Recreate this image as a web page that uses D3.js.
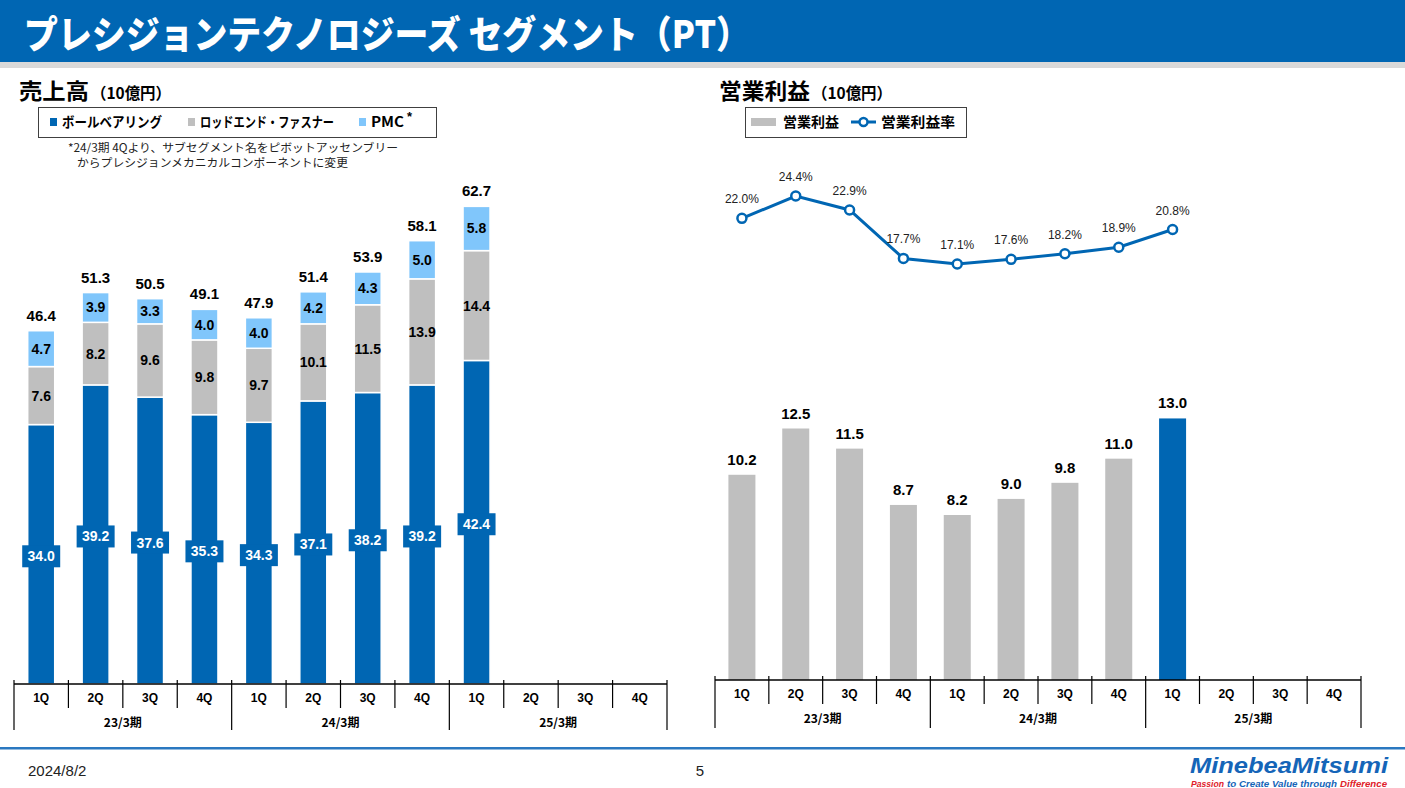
<!DOCTYPE html>
<html><head><meta charset="utf-8">
<script src="https://cdn.jsdelivr.net/npm/d3@7"></script>
<style>
html,body{margin:0;padding:0;background:#fff;}
svg{display:block;}
text{font-family:"Liberation Sans",Arial,"Noto Sans CJK JP",sans-serif;}
.jp{font-family:"Noto Sans CJK JP","Liberation Sans",sans-serif;}
</style></head><body>
<svg id="c" width="1405" height="788"></svg>
<script>
const quarters = ["1Q","2Q","3Q","4Q","1Q","2Q","3Q","4Q","1Q","2Q","3Q","4Q"];
const years = ["23/3期","24/3期","25/3期"];
const ballBearing = [34.0,39.2,37.6,35.3,34.3,37.1,38.2,39.2,42.4];
const rodEnd = [7.6,8.2,9.6,9.8,9.7,10.1,11.5,13.9,14.4];
const pmc = [4.7,3.9,3.3,4.0,4.0,4.2,4.3,5.0,5.8];
const salesTotal = [46.4,51.3,50.5,49.1,47.9,51.4,53.9,58.1,62.7];
const opIncome = [10.2,12.5,11.5,8.7,8.2,9.0,9.8,11.0,13.0];
const opMargin = [22.0,24.4,22.9,17.7,17.1,17.6,18.2,18.9,20.8];

const BLUE="#0066b3", GRAY="#bfbfbf", LBLUE="#80c6fb";
const svg=d3.select("#c");
const keys=d3.range(12);

// header
svg.append("rect").attr("x",0).attr("y",0).attr("width",1405).attr("height",62).attr("fill",BLUE);
svg.append("rect").attr("x",0).attr("y",62).attr("width",1405).attr("height",6).attr("fill","#d9d9d9");
svg.append("text").attr("class","jp").attr("x",24).attr("y",48).attr("fill","#fff")
  .attr("font-size",38).attr("font-weight",900).attr("textLength",726).attr("lengthAdjust","spacingAndGlyphs")
  .text("プレシジョンテクノロジーズ セグメント（PT）");

// section titles
function sectTitle(x,main,w1,w2){
  svg.append("text").attr("class","jp").attr("x",x).attr("y",99).attr("font-weight",700)
    .attr("font-size",22).attr("textLength",w1).attr("lengthAdjust","spacingAndGlyphs").text(main);
  svg.append("text").attr("class","jp").attr("x",x+w1+2).attr("y",99).attr("font-weight",700)
    .attr("font-size",16).attr("textLength",w2).attr("lengthAdjust","spacingAndGlyphs").text("（10億円）");
}
sectTitle(19,"売上高",70,80);
sectTitle(719,"営業利益",91,80);

// left legend
svg.append("rect").attr("x",38.5).attr("y",107.5).attr("width",398).attr("height",30).attr("fill","#fff").attr("stroke","#404040").attr("stroke-width",1);
const lg=[{c:BLUE,t:"ボールベアリング",x:50,w:100},{c:GRAY,t:"ロッドエンド・ファスナー",x:188,w:134},{c:LBLUE,t:"PMC",x:359,w:33}];
lg.forEach(d=>{
  svg.append("rect").attr("x",d.x).attr("y",118).attr("width",7).attr("height",8).attr("fill",d.c);
  svg.append("text").attr("class","jp").attr("x",d.x+12).attr("y",127).attr("font-size",14).attr("font-weight",700)
    .attr("textLength",d.w).attr("lengthAdjust","spacingAndGlyphs").text(d.t);
});
svg.append("text").attr("x",407).attr("y",121).attr("font-size",13).attr("font-weight",700).text("*");
svg.append("text").attr("class","jp").attr("x",68).attr("y",152).attr("font-size",11.5).attr("fill","#222")
  .attr("textLength",330).attr("lengthAdjust","spacingAndGlyphs").text("*24/3期 4Qより、サブセグメント名をピボットアッセンブリー");
svg.append("text").attr("class","jp").attr("x",77).attr("y",167).attr("font-size",11.5).attr("fill","#222")
  .attr("textLength",271).attr("lengthAdjust","spacingAndGlyphs").text("からプレシジョンメカニカルコンポーネントに変更");

// right legend
svg.append("rect").attr("x",745.5).attr("y",107.5).attr("width",221).attr("height",30).attr("fill","#fff").attr("stroke","#404040").attr("stroke-width",1);
svg.append("rect").attr("x",751).attr("y",118).attr("width",25).attr("height",8).attr("fill",GRAY);
svg.append("text").attr("class","jp").attr("x",783).attr("y",127).attr("font-size",14).attr("font-weight",700)
  .attr("textLength",56).attr("lengthAdjust","spacingAndGlyphs").text("営業利益");
svg.append("line").attr("x1",851).attr("x2",876).attr("y1",122).attr("y2",122).attr("stroke",BLUE).attr("stroke-width",3);
svg.append("circle").attr("cx",863.5).attr("cy",122).attr("r",4).attr("fill","#fff").attr("stroke",BLUE).attr("stroke-width",2.5);
svg.append("text").attr("class","jp").attr("x",881).attr("y",127).attr("font-size",14).attr("font-weight",700)
  .attr("textLength",74).attr("lengthAdjust","spacingAndGlyphs").text("営業利益率");

// axis helper
function drawAxis(x,y0,qy,yy,groupEnd){
  const g=svg.append("g");
  const [a,b]=x.range();
  g.append("line").attr("x1",a).attr("x2",b).attr("y1",y0).attr("y2",y0).attr("stroke","#000").attr("stroke-width",1.5);
  keys.forEach(i=>{
    const bx=x(i);
    const isGroup=i%4===0;
    g.append("line").attr("x1",bx).attr("x2",bx).attr("y1",y0-4).attr("y2",isGroup?groupEnd:y0+24).attr("stroke","#000").attr("stroke-width",1.2);
    g.append("text").attr("x",bx+x.bandwidth()/2).attr("y",qy).attr("text-anchor","middle").attr("font-size",12).attr("font-weight",700).text(quarters[i]);
  });
  g.append("line").attr("x1",b).attr("x2",b).attr("y1",y0-4).attr("y2",groupEnd).attr("stroke","#000").attr("stroke-width",1.2);
  years.forEach((t,j)=>{
    const cx=(x(j*4)+x(j*4+3)+x.bandwidth())/2;
    g.append("text").attr("class","jp").attr("x",cx).attr("y",yy).attr("text-anchor","middle").attr("font-size",12).attr("font-weight",700)
      .attr("textLength",38).attr("lengthAdjust","spacingAndGlyphs").text(t);
  });
}

// LEFT CHART
const xL=d3.scaleBand().domain(keys).range([14,667]).padding(0);
const yL=d3.scaleLinear().domain([0,70]).range([684,684-70*7.63]);
const bw=27;
const stackData=ballBearing.map((b,i)=>({i,b,r:rodEnd[i],p:pmc[i]}));
const stack=d3.stack().keys(["b","r","p"])(stackData);
const cols={b:BLUE,r:GRAY,p:LBLUE};
stack.forEach(layer=>{
  svg.append("g").selectAll("rect").data(layer).join("rect")
    .attr("x",d=>xL(d.data.i)+xL.bandwidth()/2-bw/2)
    .attr("width",bw)
    .attr("y",d=>yL(d[1]))
    .attr("height",d=>yL(d[0])-yL(d[1]))
    .attr("fill",cols[layer.key]).attr("stroke","#fff").attr("stroke-width",1.5);
});
// blue labels
stack[0].forEach(d=>{
  const cx=xL(d.data.i)+xL.bandwidth()/2, cy=(yL(d[0])+yL(d[1]))/2+2;
  svg.append("rect").attr("x",cx-19).attr("y",cy-11).attr("width",38).attr("height",22).attr("fill",BLUE);
  svg.append("text").attr("x",cx).attr("y",cy+5).attr("text-anchor","middle").attr("fill","#fff").attr("font-size",14).attr("font-weight",700).text(d.data.b.toFixed(1));
});
[stack[1],stack[2]].forEach((layer,k)=>{
  layer.forEach(d=>{
    const cx=xL(d.data.i)+xL.bandwidth()/2, cy=(yL(d[0])+yL(d[1]))/2;
    svg.append("text").attr("x",cx).attr("y",cy+5).attr("text-anchor","middle").attr("fill","#000").attr("font-size",14).attr("font-weight",700).text((k===0?d.data.r:d.data.p).toFixed(1));
  });
});
stack[2].forEach(d=>{
  const cx=xL(d.data.i)+xL.bandwidth()/2;
  svg.append("text").attr("x",cx).attr("y",yL(d[1])-10).attr("text-anchor","middle").attr("font-size",15).attr("font-weight",700).text(salesTotal[d.data.i].toFixed(1));
});
drawAxis(xL,684,702,727,730);

// RIGHT CHART
const xR=d3.scaleBand().domain(keys).range([715,1361]).padding(0);
const yR=d3.scaleLinear().domain([0,14]).range([680,680-14*20.12]);
const yM=d3.scaleLinear().domain([0,25]).range([423.4,423.4-25*9.32]);
svg.append("g").selectAll("rect").data(opIncome).join("rect")
  .attr("x",(d,i)=>xR(i)+xR.bandwidth()/2-bw/2).attr("width",bw)
  .attr("y",d=>yR(d)).attr("height",d=>yR(0)-yR(d))
  .attr("fill",(d,i)=>i===opIncome.length-1?BLUE:GRAY);
svg.append("g").selectAll("text").data(opIncome).join("text")
  .attr("x",(d,i)=>xR(i)+xR.bandwidth()/2).attr("y",d=>yR(d)-10)
  .attr("text-anchor","middle").attr("font-size",15).attr("font-weight",700).text(d=>d.toFixed(1));
const line=d3.line().x((d,i)=>xR(i)+xR.bandwidth()/2).y(d=>yM(d));
svg.append("path").datum(opMargin).attr("d",line).attr("fill","none").attr("stroke",BLUE).attr("stroke-width",3);
svg.append("g").selectAll("circle").data(opMargin).join("circle")
  .attr("cx",(d,i)=>xR(i)+xR.bandwidth()/2).attr("cy",d=>yM(d)).attr("r",4.5)
  .attr("fill","#fff").attr("stroke",BLUE).attr("stroke-width",2.5);
svg.append("g").selectAll("text").data(opMargin).join("text")
  .attr("x",(d,i)=>xR(i)+xR.bandwidth()/2).attr("y",d=>yM(d)-15)
  .attr("text-anchor","middle").attr("font-size",12).attr("fill","#222").text(d=>d.toFixed(1)+"%");
drawAxis(xR,680,698,723,728);

// footer
svg.append("rect").attr("x",0).attr("y",747).attr("width",1405).attr("height",2.5).attr("fill","#2a78c0");
svg.append("text").attr("x",28).attr("y",776).attr("font-size",15).attr("fill","#222").text("2024/8/2");
svg.append("text").attr("x",700).attr("y",776).attr("text-anchor","middle").attr("font-size",15).attr("fill","#222").text("5");
svg.append("text").attr("x",1190).attr("y",773).attr("font-size",22).attr("font-weight",700).attr("font-style","italic").attr("fill","#1565b8")
  .attr("textLength",198).attr("lengthAdjust","spacingAndGlyphs").text("MinebeaMitsumi");
const tagParts=[{t:"Passion",c:"#e0202a",w:33},{t:"to Create Value through",c:"#1565b8",w:110},{t:"Difference",c:"#e0202a",w:47}];
let tx=1191;
tagParts.forEach(p=>{
  svg.append("text").attr("x",tx).attr("y",787).attr("font-size",9).attr("font-weight",700).attr("font-style","italic").attr("fill",p.c)
    .attr("textLength",p.w).attr("lengthAdjust","spacingAndGlyphs").text(p.t);
  tx+=p.w+3;
});
</script></body></html>
